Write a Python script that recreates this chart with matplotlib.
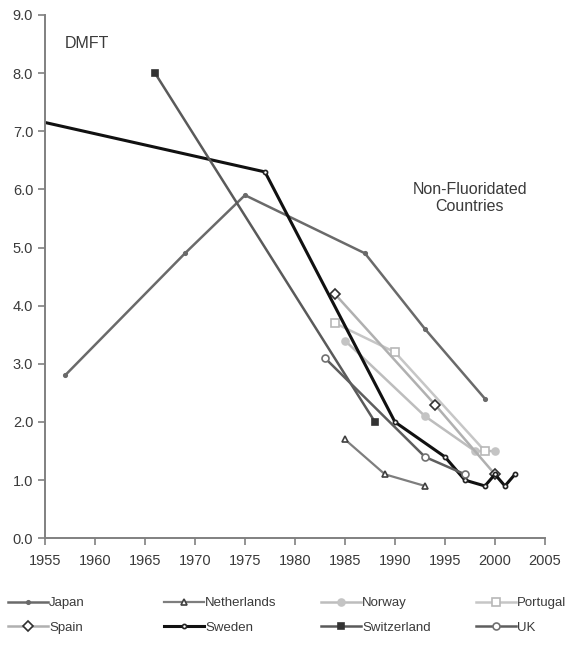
import matplotlib.pyplot as plt
from matplotlib.lines import Line2D

plt.rcParams['font.family'] = ['Liberation Sans', 'DejaVu Sans']

# DMFT values (year, value)
japan_years = [1957, 1969, 1975, 1987, 1993, 1999]
japan_dmft = [2.8, 4.9, 5.9, 4.9, 3.6, 2.4]
netherlands_years = [1985, 1989, 1993]
netherlands_dmft = [1.7, 1.1, 0.9]
norway_years = [1985, 1993, 1998, 2000]
norway_dmft = [3.4, 2.1, 1.5, 1.5]
portugal_years = [1984, 1990, 1999]
portugal_dmft = [3.7, 3.2, 1.5]
spain_years = [1984, 1994, 2000]
spain_dmft = [4.2, 2.3, 1.1]
sweden_years = [1955, 1977, 1990, 1995, 1997, 1999, 2000, 2001, 2002]
sweden_dmft = [7.15, 6.3, 2.0, 1.4, 1.0, 0.9, 1.1, 0.9, 1.1]
switzerland_years = [1966, 1988]
switzerland_dmft = [8.0, 2.0]
uk_years = [1983, 1993, 1997]
uk_dmft = [3.1, 1.4, 1.1]

x_ticks = list(range(1955, 2006, 5))
y_ticks = [0, 1, 2, 3, 4, 5, 6, 7, 8, 9]

# name, x, y, line colour, width, marker, size, face, edge
series = [
    ("Japan", japan_years, japan_dmft, "#6a6a6a", 1.8, "o", 2.5, "#6a6a6a", "#6a6a6a"),
    ("Netherlands", netherlands_years, netherlands_dmft, "#7e7e7e", 1.6, "^", 5, "white", "#404040"),
    ("Norway", norway_years, norway_dmft, "#bdbdbd", 1.8, "o", 5, "#c4c4c4", "#c4c4c4"),
    ("Portugal", portugal_years, portugal_dmft, "#c6c6c6", 1.8, "s", 6, "white", "#b8b8b8"),
    ("Spain", spain_years, spain_dmft, "#b0b0b0", 1.8, "D", 5.5, "white", "#303030"),
    ("Sweden", sweden_years, sweden_dmft, "#111111", 2.2, "o", 3, "white", "#222222"),
    ("Switzerland", switzerland_years, switzerland_dmft, "#5a5a5a", 1.8, "s", 5, "#333333", "#333333"),
    ("UK", uk_years, uk_dmft, "#5e5e5e", 1.8, "o", 5, "white", "#707070"),
]

fig = plt.figure(figsize=(5.82, 6.47), dpi=100)
ax = fig.add_axes([0.0773, 0.168, 0.859, 0.809])

handles = []
for name, xs, ys, color, lw, mk, ms, fc, ec in series:
    # the Sweden line runs in from the axis edge, no marker there
    every = list(range(1, len(xs))) if name == "Sweden" else None
    ax.plot(xs, ys, color=color, lw=lw, marker=mk, markersize=ms,
            markerfacecolor=fc, markeredgecolor=ec, markeredgewidth=1.2,
            markevery=every)
    handles.append(Line2D([], [], color=color, lw=lw, marker=mk, markersize=ms,
                          markerfacecolor=fc, markeredgecolor=ec, markeredgewidth=1.2))

ax.set_xlim(1955, 2005)
ax.set_ylim(0, 9)
ax.set_xticks(x_ticks)
ax.set_yticks(y_ticks)
ax.set_yticklabels([f"{v:.1f}" for v in y_ticks])

for side in ["top", "right"]:
    ax.spines[side].set_visible(False)
for side in ["left", "bottom"]:
    ax.spines[side].set_color("#808080")
    ax.spines[side].set_linewidth(1.4)
ax.tick_params(colors="#808080", labelcolor="#3a3a3a", labelsize=10.5,
               length=5, width=1.2, direction="out")
ax.tick_params(axis="x", pad=6)

ax.text(1957, 8.5, "DMFT", fontsize=11.5, color="#3a3a3a", va="center", ha="left")
ax.text(1997.5, 5.85, "Non-Fluoridated\nCountries", fontsize=11.5, color="#3a3a3a",
        ha="center", va="center", linespacing=1.15)

# Legend: four columns, two rows, placed like the original
col_x = [0.014, 0.282, 0.552, 0.818]
for i, x0 in enumerate(col_x):
    idx = [i, i + 4]
    leg = fig.legend([handles[j] for j in idx], [series[j][0] for j in idx],
                     loc="upper left", bbox_to_anchor=(x0, 0.077), frameon=False,
                     fontsize=9.5, handlelength=3.0, handletextpad=0.1,
                     labelspacing=0.9, borderpad=0, borderaxespad=0)
    for t in leg.get_texts():
        t.set_color("#3a3a3a")

fig.savefig("out.png", dpi=100)
